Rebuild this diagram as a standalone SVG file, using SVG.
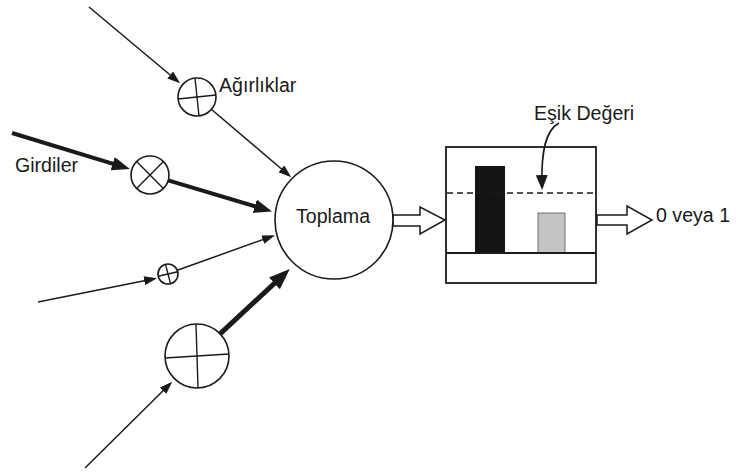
<svg xmlns="http://www.w3.org/2000/svg" width="736" height="473" viewBox="0 0 736 473">
  <defs>
    <style>
      .lbl { font-family: "Liberation Sans", Arial, sans-serif; font-size: 19.6px; fill: #1a1a1a; }
      .ring { fill: #ffffff; stroke: #1a1a1a; stroke-width: 1.6; }
      .tick { stroke: #1a1a1a; stroke-width: 1.4; fill: none; }
      .thin { stroke: #1a1a1a; stroke-width: 1.5; fill: none; marker-end: url(#headS); }
      .thick { stroke: #1a1a1a; stroke-width: 4; fill: none; marker-end: url(#headL); }
      .heavy { stroke: #1a1a1a; stroke-width: 5; fill: none; marker-end: url(#headXL); }
      .hollow { fill: #ffffff; stroke: #1a1a1a; stroke-width: 1.5; stroke-linejoin: miter; }
    </style>
    <marker id="headS" markerUnits="userSpaceOnUse" markerWidth="13" markerHeight="9" refX="9" refY="4.5" orient="auto">
      <path d="M0,0 L13,4.5 L0,9 z" fill="#1a1a1a"/>
    </marker>
    <marker id="headM" markerUnits="userSpaceOnUse" markerWidth="15" markerHeight="12" refX="10" refY="6" orient="auto">
      <path d="M0,0 L15,6 L0,12 z" fill="#1a1a1a"/>
    </marker>
    <marker id="headL" markerUnits="userSpaceOnUse" markerWidth="18" markerHeight="14" refX="10" refY="7" orient="auto">
      <path d="M0,0 L18,7 L0,14 z" fill="#1a1a1a"/>
    </marker>
    <marker id="headXL" markerUnits="userSpaceOnUse" markerWidth="21" markerHeight="16" refX="12" refY="8" orient="auto">
      <path d="M0,0 L21,8 L0,16 z" fill="#1a1a1a"/>
    </marker>
  </defs>

  <rect width="736" height="473" fill="#ffffff"/>

  <!-- threshold unit -->
  <g id="threshold">
    <rect x="446" y="147" width="150" height="136" fill="none" stroke="#1a1a1a" stroke-width="1.8"/>
    <rect x="475" y="166" width="30" height="87" fill="#141414"/>
    <rect x="538" y="213" width="27" height="40" fill="#c4c4c4" stroke="#555555" stroke-width="0.8"/>
    <line x1="446" y1="253" x2="596" y2="253" stroke="#1a1a1a" stroke-width="1.8"/>
    <line x1="447" y1="193" x2="597" y2="193" stroke="#1a1a1a" stroke-width="1.4" stroke-dasharray="6 4"/>
  </g>

  <!-- connectors: inputs, weighted signals and the threshold pointer -->
  <g id="connectors">
    <line class="thin" x1="89" y1="7" x2="177.1" y2="80.8"/>
    <line class="thin" x1="211" y1="109" x2="288.2" y2="174.7"/>
    <line class="thick" x1="12" y1="133" x2="122.2" y2="166.6"/>
    <line class="thick" x1="168.2" y1="180.4" x2="264.4" y2="209.1"/>
    <line class="thin" x1="38" y1="302" x2="153.1" y2="279"/>
    <line class="thin" x1="178" y1="270" x2="271.3" y2="236.6"/>
    <line class="heavy" x1="219.5" y1="334.3" x2="283.2" y2="275.2"/>
    <line class="thin" x1="85" y1="468" x2="169.4" y2="384.5"/>
    <path d="M559,123 C546,130 541,150 542,185" fill="none" stroke="#1a1a1a" stroke-width="1.6" marker-end="url(#headM)"/>
    <!-- hollow block arrows -->
    <polygon class="hollow" points="393,215 420,215 420,207 445,220 420,234 420,226 393,226"/>
    <polygon class="hollow" points="597,215 627,215 627,206 652,220 627,234 627,225 597,225"/>
  </g>

  <!-- weight junctions -->
  <g id="weight1">
    <circle class="ring" cx="197" cy="97" r="19"/>
    <line class="tick" x1="195" y1="78" x2="199" y2="116"/>
    <line class="tick" x1="178" y1="99" x2="216" y2="95"/>
  </g>
  <g id="weight2">
    <circle class="ring" cx="150" cy="175" r="19"/>
    <line class="tick" x1="163.4" y1="161.6" x2="136.6" y2="188.4"/>
    <line class="tick" x1="136.6" y1="161.6" x2="163.4" y2="188.4"/>
  </g>
  <g id="weight3">
    <circle class="ring" cx="168" cy="274" r="10"/>
    <line class="tick" x1="165.5" y1="264.3" x2="170.5" y2="283.7"/>
    <line class="tick" x1="158.2" y1="276.2" x2="177.8" y2="271.8"/>
  </g>
  <g id="weight4">
    <circle class="ring" cx="197" cy="356" r="32"/>
    <line class="tick" x1="196" y1="324" x2="198" y2="388"/>
    <line class="tick" x1="165" y1="358" x2="229" y2="354"/>
  </g>

  <!-- summation node -->
  <g id="sum">
    <circle class="ring" cx="334" cy="220" r="59"/>
    <text class="lbl" x="333" y="223" text-anchor="middle">Toplama</text>
  </g>

  <!-- labels -->
  <g id="labels">
    <text class="lbl" x="219" y="92">Ağırlıklar</text>
    <text class="lbl" x="15" y="172">Girdiler</text>
    <text class="lbl" x="534" y="120">Eşik Değeri</text>
    <text class="lbl" x="656" y="222">0 veya 1</text>
  </g>
</svg>
